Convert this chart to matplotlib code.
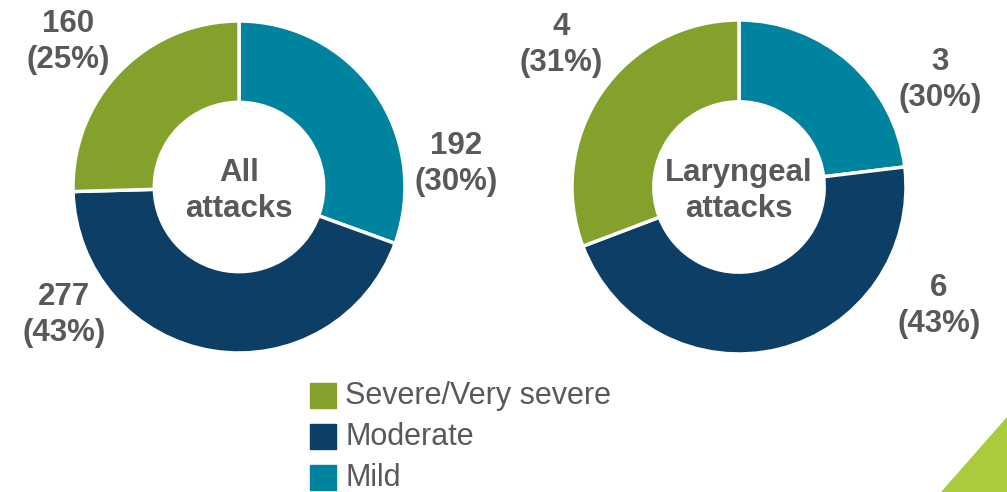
import matplotlib.pyplot as plt
from matplotlib.patches import Polygon, Rectangle

# data
categories = ['Mild', 'Moderate', 'Severe/Very severe']
colors = ['#00839F', '#0D3F66', '#84A12B']
all_attacks = [192, 277, 160]
all_labels = ['192\n(30%)', '277\n(43%)', '160\n(25%)']
laryngeal_attacks = [3, 6, 4]
laryngeal_labels = ['3\n(30%)', '6\n(43%)', '4\n(31%)']
legend_order = ['Severe/Very severe', 'Moderate', 'Mild']

W, H = 1007, 492
text_gray = '#595959'
plt.rcParams['font.family'] = ['Liberation Sans', 'DejaVu Sans']

fig = plt.figure(figsize=(W / 100, H / 100), dpi=100)
ax = fig.add_axes([0, 0, 1, 1])


def donut(values, labels, center, radius, title, label_pos):
    ax.pie(values, colors=colors, startangle=90, counterclock=False,
           center=center, radius=radius, frame=True,
           wedgeprops=dict(width=radius * 0.49, edgecolor='white', linewidth=2.5))
    ax.text(center[0], center[1] - 4, title, ha='center', va='center', fontsize=22.5,
            fontweight='bold', color=text_gray, linespacing=1.25)
    for lab, (px, py) in zip(labels, label_pos):
        ax.text(px, H - py, lab, ha='center', va='center', fontsize=22.5,
                fontweight='bold', color=text_gray, linespacing=1.22)


donut(all_attacks, all_labels, (239, H - 187), 166, 'All\nattacks',
      [(456, 164), (64, 315), (68, 42)])
donut(laryngeal_attacks, laryngeal_labels, (739, H - 187), 167, 'Laryngeal\nattacks',
      [(940, 80), (939, 306), (561, 45)])

ax.set_xlim(0, W)
ax.set_ylim(0, H)
ax.set_aspect('equal')
ax.axis('off')

# legend (shifted up a touch so "Mild" is not cut at the bottom edge)
for i, name in enumerate(legend_order):
    y_top = 383 + i * 41
    col = colors[categories.index(name)]
    ax.add_patch(Rectangle((310, H - y_top - 25), 26, 25, color=col))
    ax.text(345, H - y_top - 13, name, ha='left', va='center', fontsize=22,
            color=text_gray)

# corner triangle
ax.add_patch(Polygon([(1007, H - 417), (941, 0), (1007, 0)], closed=True,
                     color='#AACC3C', lw=0))

fig.savefig('out.png', dpi=100)
